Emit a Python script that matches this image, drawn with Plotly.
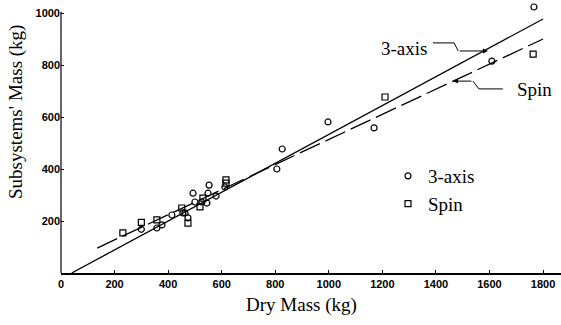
import plotly.graph_objects as go

# ---- data ----
three_axis_x = [300, 358, 377, 414, 455, 463, 474, 493, 500, 526, 545, 549, 553, 579, 612, 806, 826, 997, 1169, 1609, 1766]
three_axis_y = [168, 173, 185, 223, 231, 231, 212, 307, 273, 273, 269, 307, 338, 296, 331, 400, 477, 581, 558, 815, 1023]

spin_x = [231, 300, 358, 451, 474, 519, 530, 616, 616, 1210, 1763]
spin_y = [154, 195, 204, 250, 192, 254, 288, 358, 346, 677, 842]

# fitted lines (end points)
fit3_x = [40, 1800]
fit3_y = [0, 977]
fitspin_x = [135, 1800]
fitspin_y = [96, 900]

x_ticks = [0, 200, 400, 600, 800, 1000, 1200, 1400, 1600, 1800]
y_ticks = [200, 400, 600, 800, 1000]
y_axis_top = 1005

# leader lines for callouts
lead3_x = [1389, 1468, 1483]
lead3_y = [885, 885, 854]
lead3_tip = (1594, 854)
leadspin_x = [1650, 1561, 1538]
leadspin_y = [708, 708, 738]
leadspin_tip = (1464, 738)

serif = "Liberation Serif, Times New Roman, serif"
sans = "Liberation Sans, Arial, sans-serif"

W, H = 561, 325
ml, mr, mt, mb = 61, 0, 0, 52
pw, ph = W - ml - mr, H - mt - mb


def paper_x(px):
    return (px - ml) / pw


def paper_y(py):
    return (H - mb - py) / ph


fig = go.Figure()

fig.add_trace(go.Scatter(x=fit3_x, y=fit3_y, mode="lines",
                         line=dict(color="black", width=1.3), showlegend=False, hoverinfo="skip"))
fig.add_trace(go.Scatter(x=fitspin_x, y=fitspin_y, mode="lines",
                         line=dict(color="black", width=1.3, dash="22px,6px"), showlegend=False, hoverinfo="skip"))

fig.add_trace(go.Scatter(x=three_axis_x, y=three_axis_y, mode="markers", name="3-axis",
                         marker=dict(symbol="circle-open", size=6, color="black", line=dict(width=1.2))))
fig.add_trace(go.Scatter(x=spin_x, y=spin_y, mode="markers", name="Spin",
                         marker=dict(symbol="square-open", size=6, color="black", line=dict(width=1.2))))

# leader lines
fig.add_trace(go.Scatter(x=lead3_x, y=lead3_y, mode="lines", line=dict(color="black", width=1),
                         showlegend=False, hoverinfo="skip"))
fig.add_trace(go.Scatter(x=leadspin_x, y=leadspin_y, mode="lines", line=dict(color="black", width=1),
                         showlegend=False, hoverinfo="skip"))

fig.add_annotation(x=lead3_tip[0], y=lead3_tip[1], ax=lead3_x[-1], ay=lead3_y[-1],
                   xref="x", yref="y", axref="x", ayref="y", text="", showarrow=True,
                   arrowhead=2, arrowsize=1, arrowwidth=1, arrowcolor="black")
fig.add_annotation(x=leadspin_tip[0], y=leadspin_tip[1], ax=leadspin_x[-1], ay=leadspin_y[-1],
                   xref="x", yref="y", axref="x", ayref="y", text="", showarrow=True,
                   arrowhead=2, arrowsize=1, arrowwidth=1, arrowcolor="black")

fig.add_annotation(x=lead3_x[0] - 15, y=862, xref="x", yref="y", text="3-axis", showarrow=False,
                   xanchor="right", yanchor="middle", font=dict(family=serif, size=19, color="black"))
fig.add_annotation(x=leadspin_x[0] + 45, y=704, xref="x", yref="y", text="Spin", showarrow=False,
                   xanchor="left", yanchor="middle", font=dict(family=serif, size=19, color="black"))

# axis titles
fig.add_annotation(x=paper_x(301), y=paper_y(305), xref="paper", yref="paper", text="Dry Mass (kg)",
                   showarrow=False, xanchor="center", yanchor="middle",
                   font=dict(family=serif, size=19, color="black"))
fig.add_annotation(x=paper_x(16), y=paper_y(112), xref="paper", yref="paper", text="Subsystems' Mass (kg)",
                   showarrow=False, textangle=-90, xanchor="center", yanchor="middle",
                   font=dict(family=serif, size=19, color="black"))

# vertical axis line, stopping just above the 1000 tick
fig.add_shape(type="line", xref="paper", yref="y", x0=0, x1=0, y0=0, y1=y_axis_top,
              line=dict(color="black", width=1.2), layer="above")

fig.update_layout(
    width=W, height=H,
    margin=dict(l=ml, r=mr, t=mt, b=mb, autoexpand=False),
    paper_bgcolor="white", plot_bgcolor="white",
    showlegend=True,
    legend=dict(x=paper_x(388), y=paper_y(157), xanchor="left", yanchor="top",
                font=dict(family=serif, size=19, color="black"), bgcolor="rgba(0,0,0,0)",
                tracegroupgap=0, itemwidth=30),
    font=dict(family=sans, color="black"),
)

fig.update_xaxes(range=[0, pw / 0.2678], tickvals=x_ticks, ticktext=[str(v) for v in x_ticks],
                 showgrid=False, zeroline=False, showline=True, linecolor="black", linewidth=1.6,
                 ticks="inside", ticklen=3, tickcolor="black", automargin=False,
                 tickfont=dict(family=sans, size=11, color="black", weight="bold"))
fig.update_yaxes(range=[0, ph / 0.26], tickvals=y_ticks, ticktext=[str(v) for v in y_ticks],
                 showgrid=False, zeroline=False, showline=False,
                 ticks="inside", ticklen=3, tickcolor="black", automargin=False,
                 tickfont=dict(family=sans, size=11, color="black", weight="bold"))

# remove the page's default body margin so the figure fills the window exactly
fig.write_html("out.html", config={"displayModeBar": False},
               post_script="document.body.style.margin='0px';")
